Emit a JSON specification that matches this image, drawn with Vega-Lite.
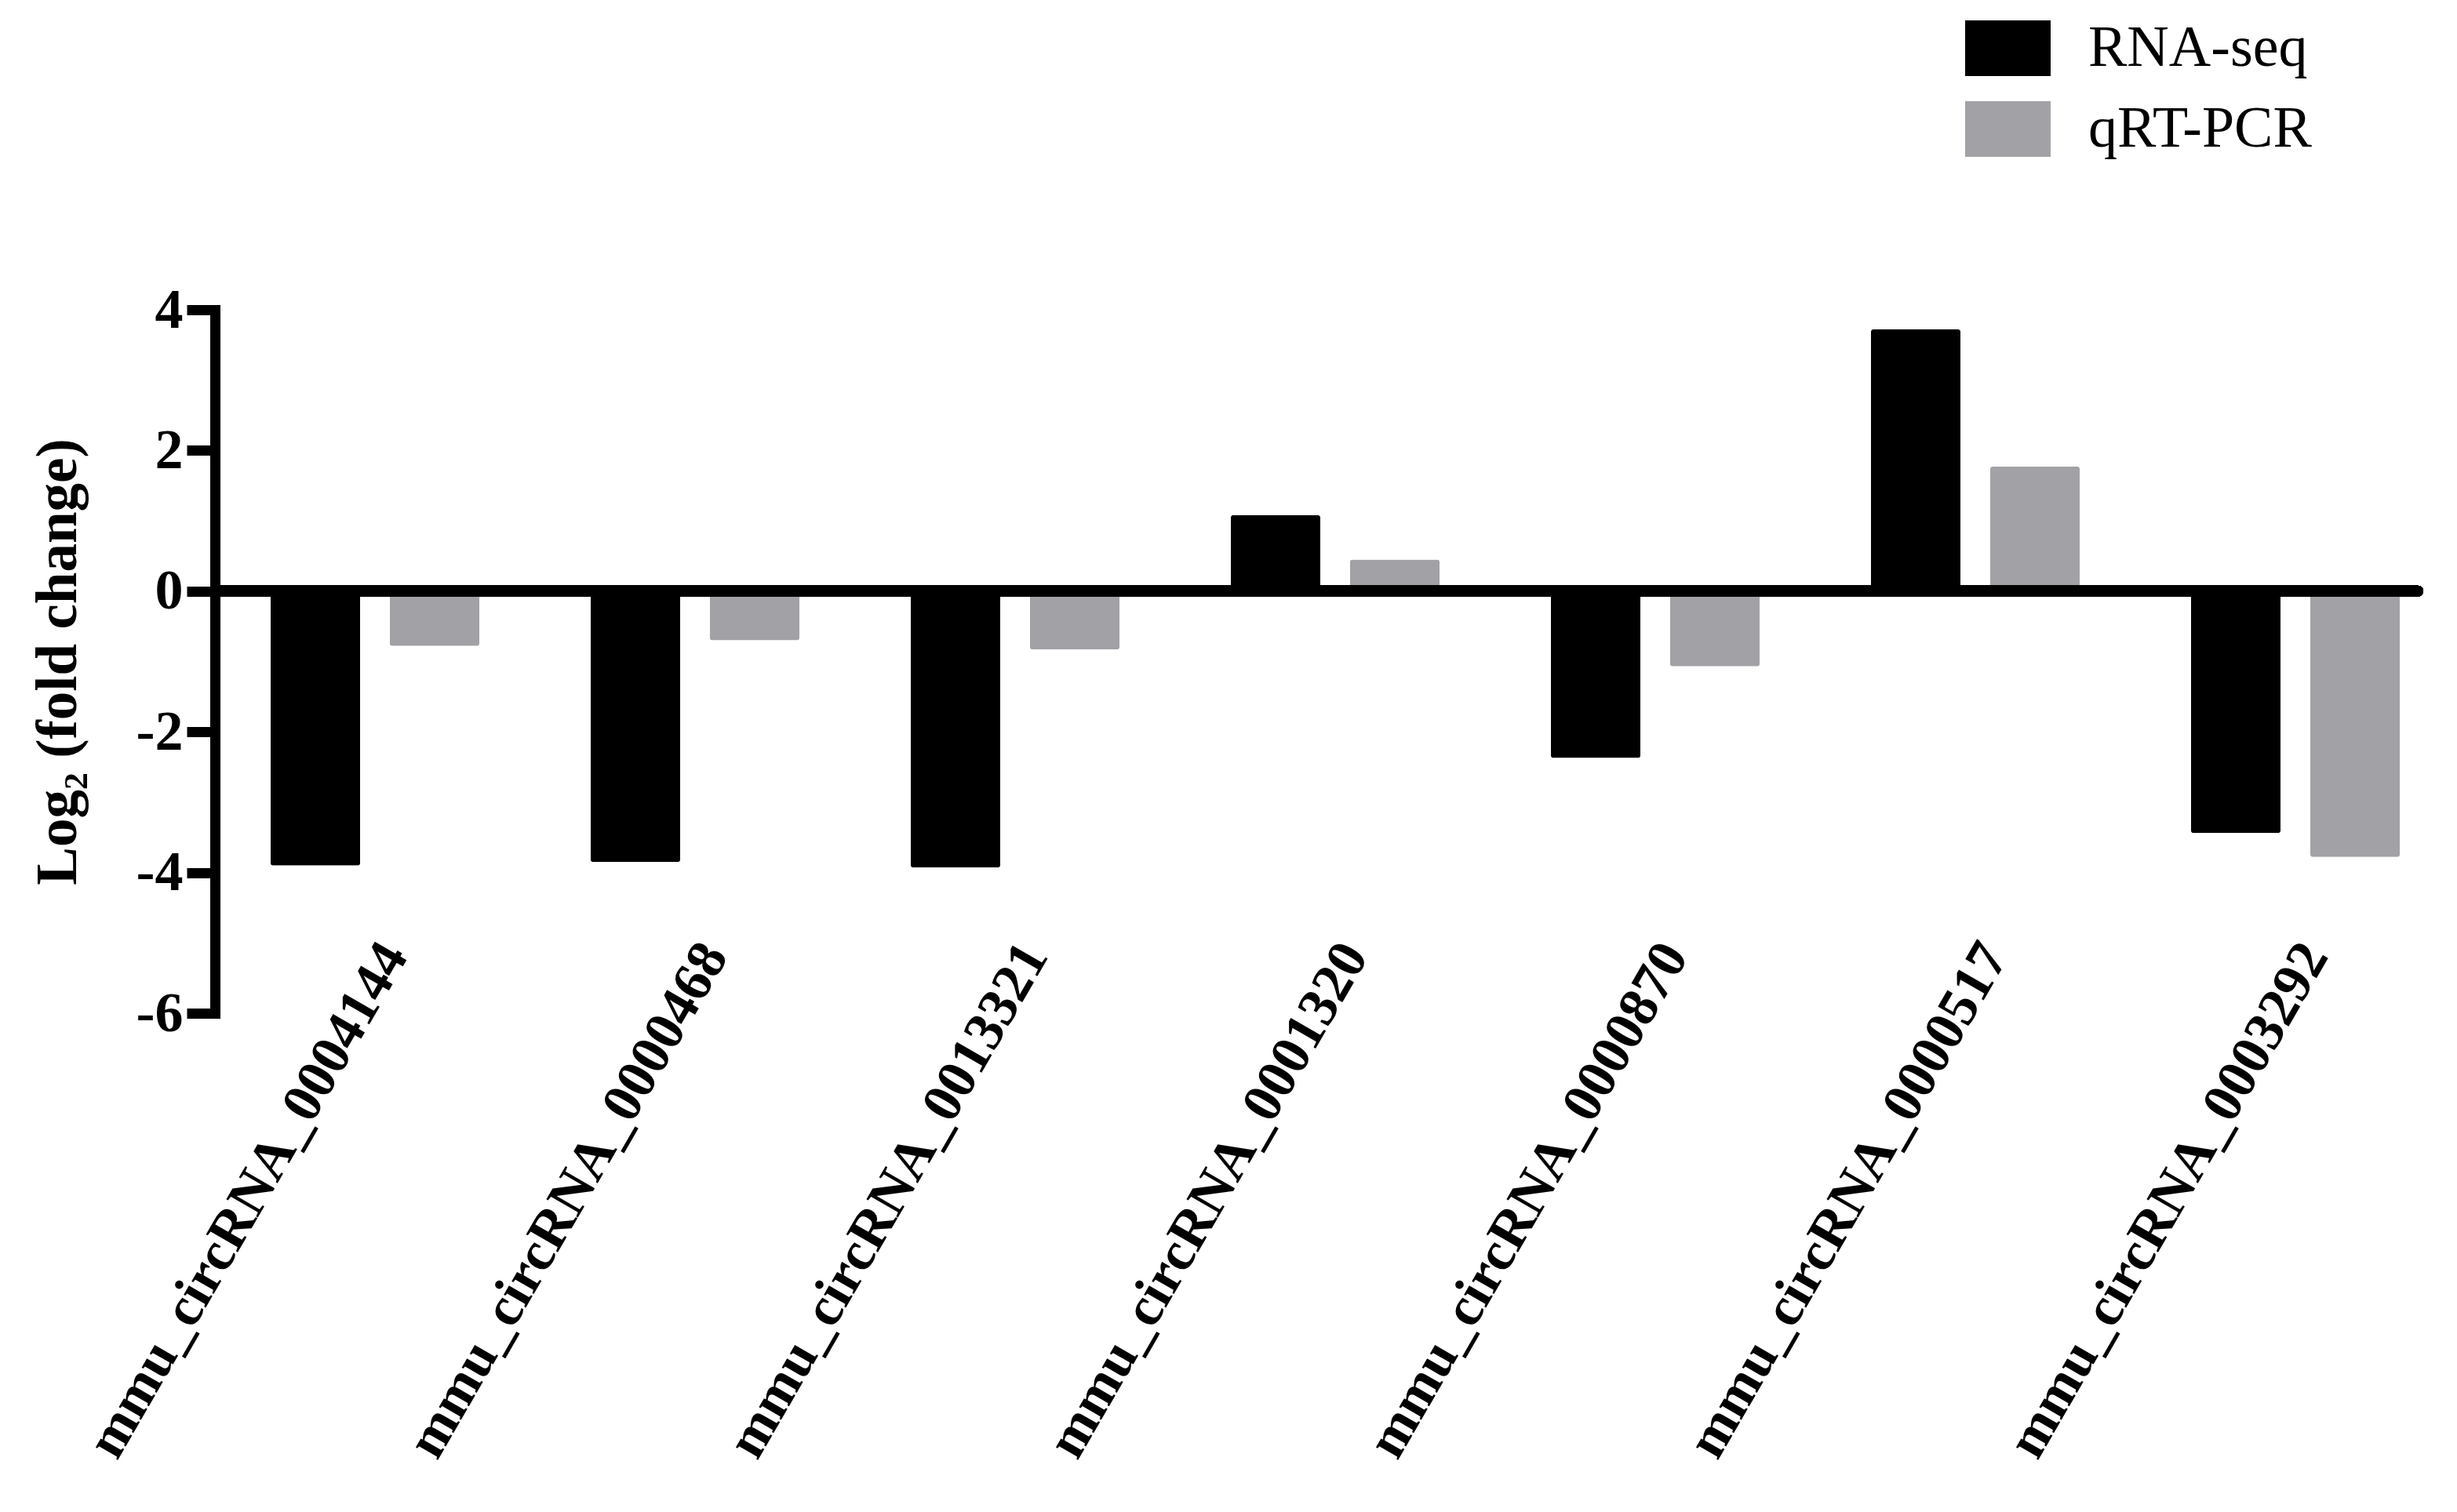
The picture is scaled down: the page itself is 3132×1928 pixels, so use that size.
{
  "$schema": "https://vega.github.io/schema/vega-lite/v6.json",
  "width": 2856,
  "height": 897,
  "autosize": {"type": "none"},
  "padding": {"left": 274, "top": 395, "right": 2, "bottom": 636},
  "background": "white",
  "config": {"view": {"stroke": null}, "font": "Liberation Serif"},
  "data": {
    "values": [
      {"gene": "mmu_circRNA_0004144", "method": "RNA-seq", "value": -3.9},
      {"gene": "mmu_circRNA_0004144", "method": "qRT-PCR", "value": -0.78},
      {"gene": "mmu_circRNA_0000468", "method": "RNA-seq", "value": -3.85},
      {"gene": "mmu_circRNA_0000468", "method": "qRT-PCR", "value": -0.7},
      {"gene": "mmu_circRNA_0013321", "method": "RNA-seq", "value": -3.93},
      {"gene": "mmu_circRNA_0013321", "method": "qRT-PCR", "value": -0.83},
      {"gene": "mmu_circRNA_0001320", "method": "RNA-seq", "value": 1.08},
      {"gene": "mmu_circRNA_0001320", "method": "qRT-PCR", "value": 0.45},
      {"gene": "mmu_circRNA_0000870", "method": "RNA-seq", "value": -2.37},
      {"gene": "mmu_circRNA_0000870", "method": "qRT-PCR", "value": -1.07},
      {"gene": "mmu_circRNA_0000517", "method": "RNA-seq", "value": 3.72},
      {"gene": "mmu_circRNA_0000517", "method": "qRT-PCR", "value": 1.77},
      {"gene": "mmu_circRNA_0003292", "method": "RNA-seq", "value": -3.44},
      {"gene": "mmu_circRNA_0003292", "method": "qRT-PCR", "value": -3.78}
    ]
  },
  "layer": [
    {
      "mark": {"type": "bar", "cornerRadius": 3},
      "encoding": {
        "x": {
          "field": "gene", "type": "nominal", "sort": null,
          "scale": {"paddingInner": 0, "paddingOuter": 0},
          "axis": {
            "title": null, "domain": false, "ticks": false,
            "labelAngle": -60, "labelAlign": "right", "labelBaseline": "middle",
            "labelFont": "Liberation Serif", "labelFontWeight": "bold", "labelFontSize": 71,
            "labelColor": "black", "labelPadding": -84, "labelOffset": 25, "labelLimit": 0
          }
        },
        "xOffset": {
          "field": "method", "type": "nominal", "sort": ["RNA-seq", "qRT-PCR"],
          "scale": {"paddingInner": 0.25, "paddingOuter": 0.467}
        },
        "y": {
          "field": "value", "type": "quantitative",
          "scale": {"domain": [-6, 4], "nice": false, "zero": false},
          "axis": {
            "values": [-6, -4, -2, 0, 2, 4],
            "format": "d",
            "title": "Log₂ (fold change)",
            "titleFont": "Liberation Serif", "titleFontSize": 73, "titleFontWeight": "bold",
            "titleColor": "black", "titlePadding": 62,
            "labelFont": "Liberation Serif", "labelFontSize": 72, "labelFontWeight": "bold",
            "labelColor": "black", "labelPadding": 5,
            "labelExpr": "replace(datum.label, '−', '-')",
            "domainColor": "black", "domainWidth": 13, "domainCap": "square",
            "tickColor": "black", "tickWidth": 13, "tickSize": 36, "grid": false
          }
        },
        "color": {
          "field": "method", "type": "nominal", "sort": ["RNA-seq", "qRT-PCR"],
          "scale": {"domain": ["RNA-seq", "qRT-PCR"], "range": ["#000000", "#a2a1a6"]},
          "legend": {
            "title": null, "orient": "none", "legendX": 2231, "legendY": -388,
            "symbolType": "M-1,-0.651H1V0.651H-1Z", "symbolSize": 11881,
            "symbolStrokeWidth": 0, "symbolOpacity": 1,
            "labelFont": "Liberation Serif", "labelFontSize": 74, "labelColor": "black",
            "labelOffset": 48, "rowPadding": 11, "padding": 0, "labelLimit": 0
          }
        }
      }
    },
    {
      "mark": {"type": "rule", "strokeWidth": 14, "strokeCap": "round", "color": "black"},
      "encoding": {
        "y": {"datum": 0},
        "x": {"datum": 0, "type": "quantitative", "scale": {"domain": [0, 1]}, "axis": null},
        "x2": {"datum": 0.9832}
      }
    }
  ],
  "resolve": {"scale": {"x": "independent"}}
}
